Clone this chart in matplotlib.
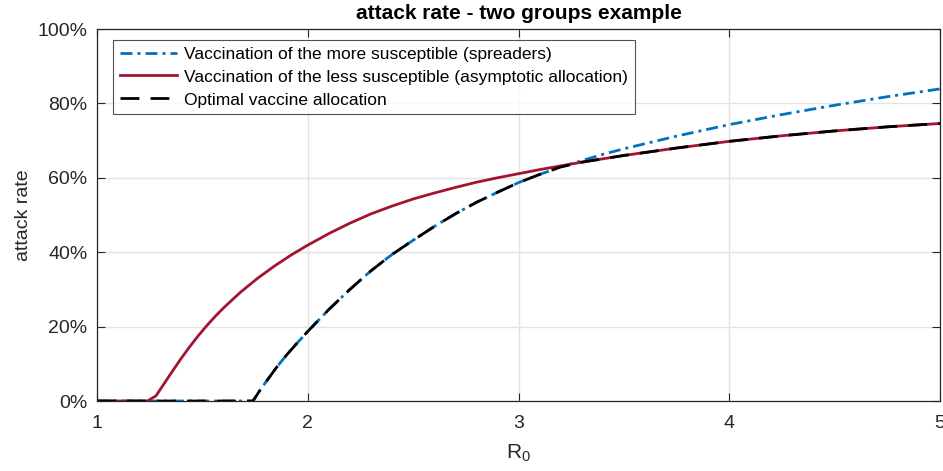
import matplotlib
matplotlib.use("Agg")
import matplotlib.pyplot as plt
from matplotlib.ticker import FuncFormatter

plt.rcParams['font.family'] = ['Liberation Sans', 'DejaVu Sans']
plt.rcParams['mathtext.fontset'] = 'custom'
plt.rcParams['mathtext.rm'] = 'Liberation Sans'
plt.rcParams['mathtext.it'] = 'Liberation Sans'

# values (attack rate in %)
r0_less = [1.0, 1.24, 1.28, 1.32, 1.36, 1.40, 1.44, 1.48, 1.52, 1.56, 1.60, 1.68,
           1.76, 1.84, 1.92, 2.0, 2.1, 2.2, 2.3, 2.4, 2.5, 2.6, 2.7, 2.8, 2.9,
           3.0, 3.1, 3.2, 3.3, 3.4, 3.5, 3.75, 4.0, 4.25, 4.5, 4.75, 5.0]
ar_less = [0, 0, 1.4, 4.8, 8.2, 11.5, 14.6, 17.5, 20.2, 22.7, 25.0, 29.2,
           32.9, 36.2, 39.2, 41.9, 45.0, 47.8, 50.3, 52.4, 54.3, 55.9, 57.4, 58.8, 60.0,
           61.1, 62.2, 63.2, 64.2, 65.1, 66.0, 68.0, 69.8, 71.3, 72.6, 73.7, 74.6]

r0_more = [1.0, 1.74, 1.77, 1.80, 1.85, 1.90, 1.95, 2.0, 2.1, 2.2, 2.3, 2.4, 2.5,
           2.6, 2.7, 2.8, 2.9, 3.0, 3.1, 3.2, 3.3, 3.4, 3.5, 3.75, 4.0, 4.25,
           4.5, 4.75, 5.0]
ar_more = [0, 0, 2.6, 5.0, 8.9, 12.4, 15.6, 18.7, 24.6, 30.0, 35.0, 39.4, 43.2,
           46.9, 50.3, 53.4, 56.1, 58.7, 60.9, 62.9, 64.6, 66.3, 67.8, 71.2, 74.3, 77.0,
           79.5, 81.8, 83.9]

r0_opt = [1.0, 1.74, 1.77, 1.80, 1.85, 1.90, 1.95, 2.0, 2.1, 2.2, 2.3, 2.4, 2.5,
          2.6, 2.7, 2.8, 2.9, 3.0, 3.1, 3.2, 3.3, 3.4, 3.5, 3.75, 4.0, 4.25,
          4.5, 4.75, 5.0]
ar_opt = [0, 0, 2.6, 5.0, 8.9, 12.4, 15.6, 18.7, 24.6, 30.0, 35.0, 39.4, 43.2,
          46.9, 50.3, 53.4, 56.1, 58.7, 60.9, 62.9, 64.2, 65.1, 66.0, 68.0, 69.8, 71.3,
          72.6, 73.7, 74.6]

labels = ['Vaccination of the more susceptible (spreaders)',
          'Vaccination of the less susceptible (asymptotic allocation)',
          'Optimal vaccine allocation']

fig = plt.figure(figsize=(9.43, 4.71), dpi=100)
ax = fig.add_axes([97 / 943, 1 - 401 / 471, 843 / 943, 372 / 471])

ax.plot(r0_more, ar_more, color='#0072BD', lw=2,
        linestyle=(0, (4.3, 1.8, 1.1, 1.8)), label=labels[0])
ax.plot(r0_less, ar_less, color='#A2142F', lw=2, label=labels[1])
ax.plot(r0_opt, ar_opt, color='black', lw=2,
        linestyle=(0, (6.8, 4)), label=labels[2])

ax.set_xlim(1, 5)
ax.set_ylim(0, 100)
ax.set_xticks([1, 2, 3, 4, 5])
ax.set_yticks([0, 20, 40, 60, 80, 100])
ax.yaxis.set_major_formatter(FuncFormatter(lambda v, p: '%d%%' % v))
ax.grid(True, color='#e3e3e3', lw=1)
ax.set_axisbelow(True)
ax.tick_params(direction='in', length=6, width=0.8, labelsize=14,
               colors='#262626', top=True, right=True)
ax.tick_params(axis='x', pad=10)
ax.tick_params(axis='y', pad=7)
for s in ax.spines.values():
    s.set_color('#262626')
    s.set_linewidth(0.9)

ax.set_title('attack rate - two groups example', fontsize=15,
             fontweight='bold', pad=7)
ax.set_xlabel('R$_0$', fontsize=15, color='#262626', labelpad=8)
ax.set_ylabel('attack rate', fontsize=14, color='#262626', labelpad=4)

leg = ax.legend(loc='upper left', fontsize=12.5, handlelength=3.3,
                bbox_to_anchor=(15.7 / 843, 1 - 10.5 / 372), borderaxespad=0,
                frameon=True, fancybox=False, borderpad=0.4,
                labelspacing=0.45, handletextpad=0.4)
leg.get_frame().set_edgecolor('#262626')
leg.get_frame().set_linewidth(0.8)

fig.savefig('out.png', dpi=100)
